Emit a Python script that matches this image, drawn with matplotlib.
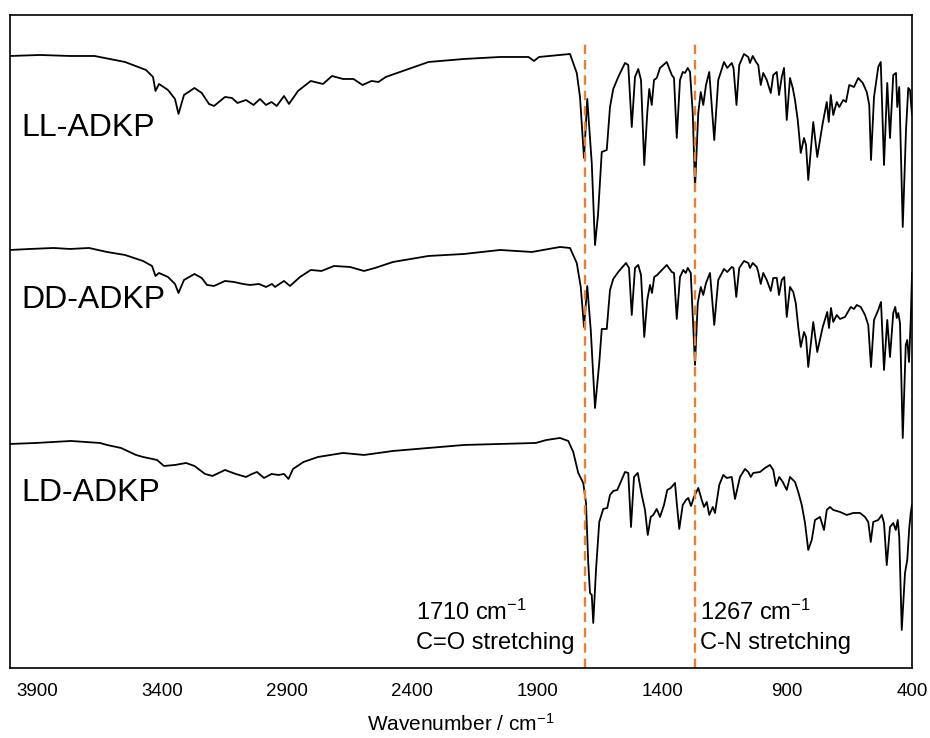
import matplotlib
matplotlib.use("Agg")
import matplotlib.pyplot as plt

plt.rcParams['font.family'] = ['Liberation Sans', 'DejaVu Sans']
plt.rcParams['mathtext.fontset'] = 'custom'
plt.rcParams['mathtext.rm'] = 'Liberation Sans'
plt.rcParams['mathtext.it'] = 'Liberation Sans:italic'

# ---------------- data (wavenumber cm-1, transmittance a.u. incl. offset) ----------------
ll_wn = [4008, 3888, 3768, 3670, 3548, 3464, 3436, 3426, 3412, 3376, 3348, 3334, 3312, 3270,
         3241, 3212, 3192, 3148, 3120, 3098, 3064, 3034, 3008, 2984, 2962, 2941, 2912, 2892,
         2856, 2805, 2756, 2720, 2676, 2634, 2598, 2562, 2534, 2505, 2448, 2334, 2192, 2048,
         1934, 1912, 1892, 1808, 1768, 1741, 1728, 1712, 1699, 1681, 1668, 1656, 1641, 1621,
         1608, 1595, 1575, 1548, 1535, 1521, 1508, 1495, 1484, 1471, 1459, 1451, 1441, 1432,
         1421, 1408, 1381, 1361, 1352, 1341, 1328, 1317, 1308, 1297, 1288, 1277, 1268, 1255,
         1245, 1235, 1224, 1211, 1191, 1175, 1152, 1139, 1121, 1114, 1102, 1091, 1072, 1055,
         1048, 1037, 1024, 1015, 1005, 995, 981, 965, 955, 941, 932, 921, 912, 901, 888, 877,
         868, 857, 845, 832, 824, 815, 795, 779, 757, 741, 733, 725, 715, 701, 691, 675, 664,
         651, 632, 615, 597, 581, 571, 564, 552, 535, 525, 512, 499, 488, 475, 464, 459, 451,
         437, 424, 415, 408, 400]
ll_t = [612, 613, 612, 612, 606, 598, 591, 577, 584, 578, 569, 554, 573, 580,
        575, 564, 562, 571, 570, 565, 568, 563, 569, 563, 566, 562, 572, 564,
        577, 587, 584, 592, 589, 589, 583, 587, 586, 591, 596, 606, 609, 611,
        611, 607, 611, 613, 614, 595, 571, 510, 569, 505, 423, 453, 516, 518,
        561, 579, 591, 605, 603, 541, 591, 599, 588, 503, 555, 579, 563, 588,
        590, 600, 606, 593, 590, 530, 588, 596, 595, 600, 596, 555, 480, 555,
        576, 563, 583, 596, 528, 588, 606, 600, 605, 600, 563, 603, 614, 611,
        605, 612, 606, 603, 583, 595, 588, 575, 593, 596, 573, 591, 600, 548, 590, 580,
        568, 548, 515, 530, 523, 488, 546, 511, 545, 566, 546, 573, 553, 566, 561, 568, 566,
        583, 581, 590, 585, 576, 563, 508, 571, 601, 606, 503, 585, 530, 593, 595, 561, 581,
        441, 538, 580, 578, 553]

dd_wn = [4008, 3928, 3834, 3768, 3692, 3620, 3548, 3476, 3440, 3426, 3412, 3376, 3348, 3334,
         3312, 3270, 3241, 3220, 3192, 3148, 3112, 3076, 3048, 3012, 2984, 2960, 2948, 2912,
         2888, 2848, 2805, 2762, 2712, 2648, 2592, 2548, 2476, 2334, 2192, 2048, 1920, 1808,
         1768, 1741, 1725, 1712, 1699, 1685, 1668, 1651, 1641, 1621, 1608, 1595, 1575, 1544,
         1532, 1521, 1508, 1495, 1484, 1471, 1459, 1448, 1440, 1431, 1419, 1408, 1381, 1361,
         1352, 1341, 1328, 1315, 1305, 1297, 1285, 1268, 1257, 1245, 1235, 1224, 1208, 1191,
         1175, 1152, 1139, 1121, 1114, 1103, 1091, 1072, 1055, 1048, 1037, 1021, 1015, 1005,
         995, 981, 965, 955, 941, 932, 921, 911, 901, 888, 875, 865, 855, 845, 832, 824, 815,
         795, 779, 757, 739, 732, 724, 715, 701, 688, 668, 645, 632, 621, 605, 588, 575, 564,
         552, 535, 524, 512, 499, 488, 475, 467, 461, 455, 448, 437, 425, 419, 412, 405, 400]
dd_t = [418, 419, 420, 419, 420, 416, 413, 407, 402, 392, 395, 391, 384, 375,
        388, 394, 390, 383, 382, 387, 386, 384, 383, 384, 381, 384, 381, 387,
        382, 391, 398, 397, 402, 401, 397, 400, 406, 412, 414, 418, 416, 421,
        420, 405, 381, 341, 382, 338, 260, 305, 339, 339, 378, 389, 396, 405,
        400, 353, 400, 403, 393, 331, 368, 383, 375, 391, 393, 396, 403, 396,
        395, 349, 391, 398, 395, 400, 395, 303, 365, 381, 373, 385, 395, 343,
        388, 399, 396, 401, 400, 371, 400, 407, 405, 400, 405, 401, 396, 384,
        395, 388, 377, 390, 390, 373, 388, 391, 351, 381, 376, 365, 341, 321, 336, 331, 301,
        346, 316, 341, 356, 340, 360, 346, 353, 349, 351, 361, 359, 363, 361, 353, 343, 301,
        348, 358, 366, 298, 348, 311, 355, 361, 350, 355, 345, 230, 323, 328, 306, 348, 395]

ld_wn = [4008, 3904, 3764, 3648, 3620, 3564, 3504, 3476, 3420, 3392, 3348, 3304, 3270, 3228,
         3198, 3148, 3105, 3064, 3040, 3020, 2992, 2962, 2934, 2912, 2894, 2876, 2834, 2776,
         2676, 2592, 2476, 2334, 2192, 2048, 1905, 1862, 1808, 1775, 1755, 1735, 1715, 1704,
         1695, 1688, 1681, 1675, 1664, 1651, 1635, 1619, 1608, 1595, 1579, 1565, 1548, 1535,
         1524, 1512, 1497, 1481, 1468, 1457, 1445, 1435, 1421, 1408, 1392, 1379, 1365, 1348,
         1341, 1331, 1317, 1304, 1295, 1284, 1272, 1255, 1241, 1232, 1221, 1211, 1197, 1188,
         1171, 1155, 1141, 1121, 1108, 1088, 1068, 1055, 1045, 1035, 1008, 988, 968, 955, 944,
         931, 917, 901, 888, 868, 855, 841, 828, 815, 801, 788, 768, 752, 741, 728, 715, 688,
         661, 635, 608, 588, 575, 565, 555, 535, 521, 512, 501, 488, 475, 465, 457, 451, 441,
         428, 419, 411, 405, 400]
ld_t = [224, 225, 227, 225, 223, 220, 213, 211, 208, 202, 203, 205, 202, 194,
        192, 198, 194, 191, 194, 196, 190, 194, 193, 194, 189, 199, 206, 211,
        215, 213, 217, 220, 223, 224, 225, 228, 230, 227, 216, 195, 185, 165,
        105, 75, 73, 45, 98, 146, 159, 160, 173, 177, 178, 186, 196, 195,
        141, 191, 195, 173, 158, 133, 151, 153, 159, 151, 163, 178, 180, 185,
        165, 139, 163, 168, 170, 162, 171, 180, 168, 161, 166, 153, 161, 155,
        183, 193, 190, 191, 169, 191, 199, 196, 191, 195, 196, 200, 203, 198, 182,
        191, 186, 178, 191, 186, 176, 163, 145, 118, 128, 148, 151, 138, 158, 161, 158, 156,
        153, 155, 155, 151, 146, 126, 146, 148, 153, 145, 103, 141, 145, 138, 148, 131, 38,
        95, 108, 140, 155, 163]

series = [("LL-ADKP", ll_wn, ll_t, 540), ("DD-ADKP", dd_wn, dd_t, 368), ("LD-ADKP", ld_wn, ld_t, 175)]
marker_wn = [1710, 1267]
marker_text = ["1710 cm$^{-1}$\nC=O stretching", "1267 cm$^{-1}$\nC-N stretching"]
marker_text_wn = [2384, 1248]
xticks = [3900, 3400, 2900, 2400, 1900, 1400, 900, 400]

# ---------------- figure ----------------
fig = plt.figure(figsize=(9.3, 7.38), dpi=100)
ax = fig.add_axes([0.01075, 0.0949, 0.9699, 0.8848])

for name, wn, t, ly in series:
    ax.plot(wn, t, color='black', lw=1.3, solid_joinstyle='round')
    ax.text(3962, ly, name, fontsize=23, ha='left', va='center')

for wn in marker_wn:
    ax.plot([wn, wn], [0, 628], color='#ED7D31', lw=1.7, dashes=(4, 2.5))

for tx, txt in zip(marker_text_wn, marker_text):
    ax.text(tx, 41, txt, fontsize=17, ha='left', va='center', linespacing=1.4)

ax.set_xlim(4008, 400)
ax.set_ylim(0, 653)
ax.set_xticks(xticks)
ax.set_xticklabels([str(v) for v in xticks], fontsize=13.5)
ax.set_yticks([])
ax.tick_params(axis='x', length=0, pad=11)
ax.set_xlabel("Wavenumber / cm$^{-1}$", fontsize=15, labelpad=9)
for s in ax.spines.values():
    s.set_linewidth(1.2)
    s.set_color('black')

fig.savefig("out.png", dpi=100)
